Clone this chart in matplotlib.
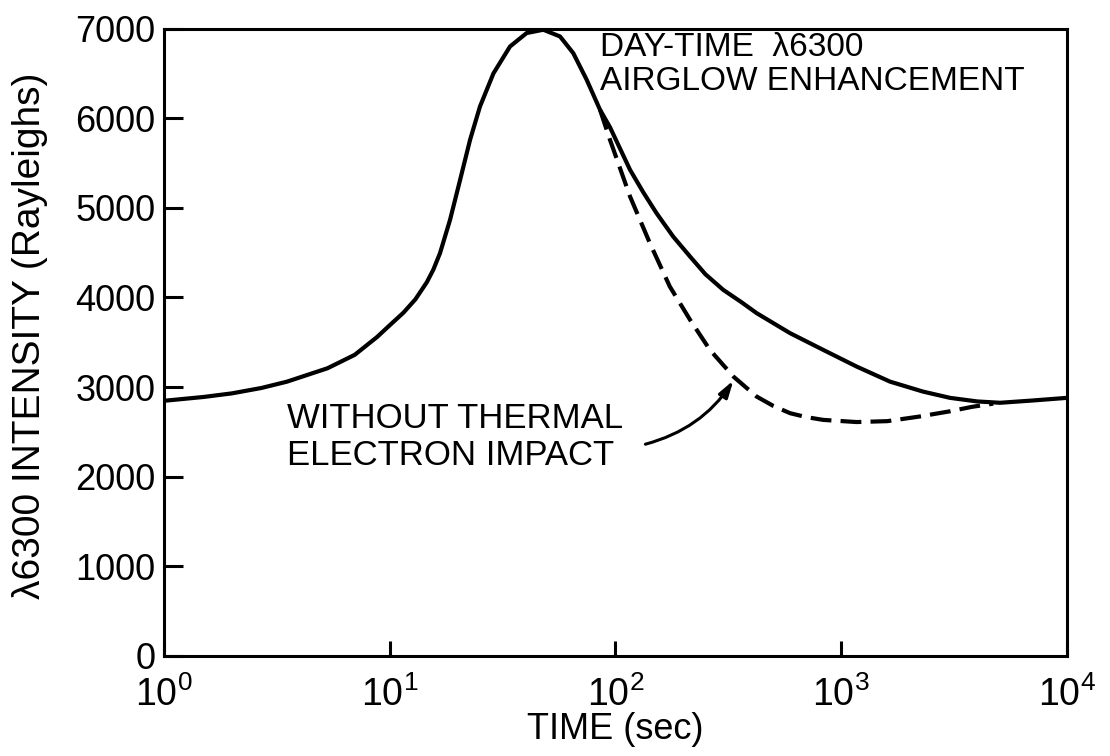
import numpy as np
import matplotlib
matplotlib.use("Agg")
import matplotlib.pyplot as plt

plt.rcParams['font.family'] = ['Liberation Sans', 'DejaVu Sans']
plt.rcParams['mathtext.fontset'] = 'custom'
plt.rcParams['mathtext.rm'] = 'Liberation Sans'

# with thermal electron impact (solid)
t_solid = [1, 1.5, 2, 2.7, 3.5, 5.3, 7, 8.8, 10, 11.5, 13, 14.6, 15.6, 16.7, 18.5,
           20.5, 22.7, 25.1, 28.8, 34.1, 40.4, 47.9, 56.8, 65, 74.5, 85.4, 94.5,
           116, 133, 152, 180, 214, 250, 300, 360, 422, 593, 832, 1170, 1644, 2300,
           3030, 4000, 5050, 7000, 10000]
I_solid = [2847, 2890, 2930, 2990, 3060, 3210, 3360, 3560, 3690, 3830, 3980, 4170,
           4310, 4494, 4866, 5312, 5760, 6130, 6500, 6800, 6950, 6987, 6912, 6726,
           6430, 6094, 5900, 5424, 5170, 4940, 4680, 4456, 4260, 4085, 3950, 3825,
           3602, 3415, 3229, 3061, 2950, 2880, 2840, 2825, 2850, 2880]

# without thermal electron impact (dashed)
t_dash = [85.4, 94.5, 116, 142, 174, 214, 262, 333, 422, 500, 593, 700, 832, 1170,
          1600, 2200, 3030, 3800, 4710]
I_dash = [6094, 5760, 5126, 4606, 4122, 3750, 3415, 3117, 2894, 2790, 2709, 2665,
          2634, 2610, 2620, 2670, 2730, 2780, 2815]

y_ticks = [0, 1000, 2000, 3000, 4000, 5000, 6000, 7000]
x_ticks = [1, 10, 100, 1000, 10000]

fig = plt.figure(figsize=(11.1, 7.56), dpi=100)
ax = fig.add_axes([0.1477, 0.1323, 0.8136, 0.8299])

ax.plot(t_solid, I_solid, color='black', lw=3.0, solid_joinstyle='round')
ax.plot(t_dash, I_dash, color='black', lw=3.0, dashes=(5, 2.2))

ax.set_xscale('log')
ax.set_xlim(1, 1e4)
ax.set_ylim(0, 7000)
ax.set_xticks(x_ticks)
ax.minorticks_off()
ax.set_yticks(y_ticks)
ax.set_yticklabels([str(v) for v in y_ticks])

for s in ax.spines.values():
    s.set_linewidth(2.2)
ax.tick_params(axis='both', direction='in', width=2.2)
ax.tick_params(axis='y', length=14, pad=6, labelsize=26)
ax.tick_params(axis='x', length=11, pad=15, labelsize=27)

ax.set_xlabel('TIME (sec)', fontsize=26)
ax.xaxis.set_label_coords(0.5, -0.09)
ax.set_ylabel('λ6300 INTENSITY (Rayleighs)', fontsize=28)
ax.yaxis.set_label_coords(-0.128, 0.51)

ax.text(0.483, 0.995, 'DAY-TIME  λ6300\nAIRGLOW ENHANCEMENT', transform=ax.transAxes,
        fontsize=24, va='top', ha='left', linespacing=1.15)
ax.text(0.136, 0.405, 'WITHOUT THERMAL\nELECTRON IMPACT', transform=ax.transAxes,
        fontsize=25, va='top', ha='left', linespacing=1.15)

ax.annotate('', xy=(338, 3100), xytext=(132, 2355),
            arrowprops=dict(arrowstyle='-|>,head_length=1.0,head_width=0.3',
                            color='black', lw=2.2, connectionstyle='arc3,rad=0.2'))

fig.savefig('out.png', dpi=100)
